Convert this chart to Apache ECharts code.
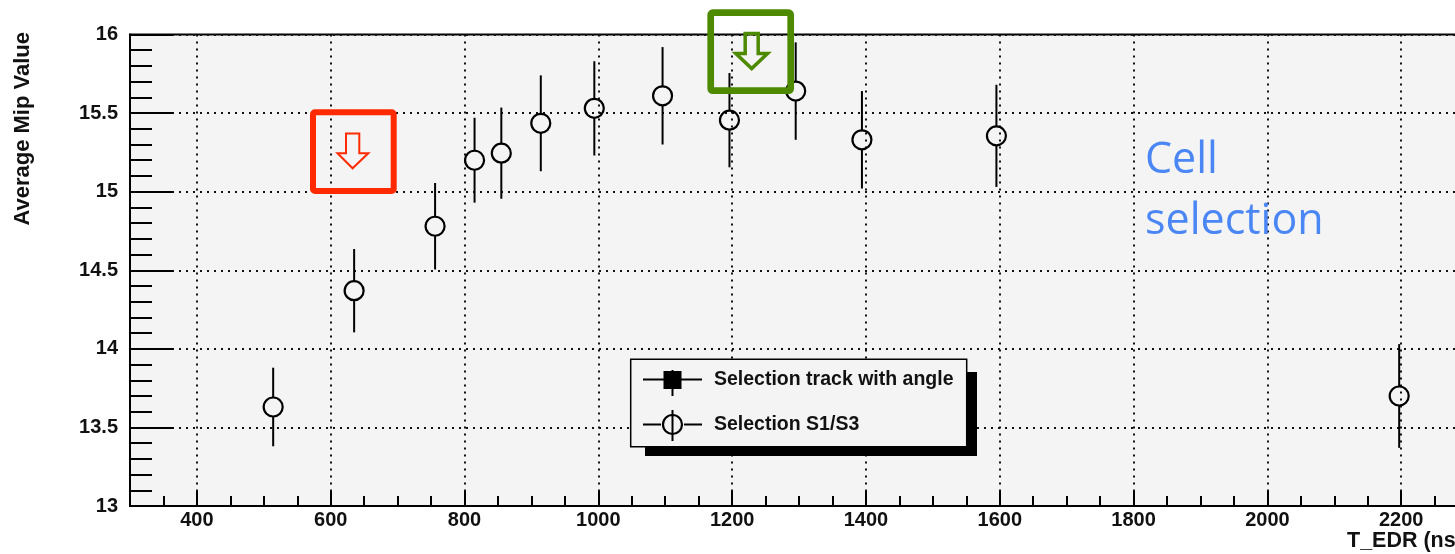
<!DOCTYPE html>
<html>
<head>
<meta charset="utf-8">
<script src="https://cdn.jsdelivr.net/npm/echarts@6/dist/echarts.min.js"></script>
<style>
  html, body { margin: 0; padding: 0; background: #ffffff; }
  #chart { width: 1455px; height: 554px; }
</style>
</head>
<body>
<div id="chart"></div>
<script>
// T_EDR scan: average MIP value per threshold setting (selection S1/S3)
const tEdr    = [514, 635, 756, 815, 855, 914, 994, 1096, 1196, 1295, 1394, 1595, 2197];
const meanMip = [13.63, 14.37, 14.78, 15.20, 15.245, 15.435, 15.53, 15.61, 15.455, 15.64, 15.33, 15.355, 13.70];
const errMip  = [0.25, 0.265, 0.275, 0.27, 0.29, 0.305, 0.30, 0.31, 0.30, 0.31, 0.31, 0.325, 0.33];

const xMajorTicks  = [400, 600, 800, 1000, 1200, 1400, 1600, 1800, 2000, 2200, 2400];
const xTickLabels  = [400, 600, 800, 1000, 1200, 1400, 1600, 1800, 2000, 2200];
const legendLabels = ['Selection track with angle', 'Selection S1/S3'];
const noteLines    = ['Cell', 'selection'];

const FONT = 'Liberation Sans, Arial, Helvetica, sans-serif';
const INK = '#111';
const dotted = { color: '#111', width: 2, type: [2, 5] };

const points = tEdr.map((x, i) => [x, meanMip[i], errMip[i]]);

const chart = echarts.init(document.getElementById('chart'), null, { renderer: 'canvas' });

const red = '#ff2a00';
const green = '#4d8a00';

chart.setOption({
  animation: false,
  backgroundColor: '#ffffff',
  grid: {
    left: 130, top: 34.5, width: 1405, height: 471.5,
    outerBoundsMode: 'none', containLabel: false,
    show: true, backgroundColor: '#f4f4f4', borderColor: '#000', borderWidth: 2
  },
  xAxis: [
    {
      // minor ticks every 50 ns along the frame
      type: 'value', min: 300, max: 2400, interval: 50, position: 'bottom',
      axisLine: { show: true, onZero: false, lineStyle: { color: '#000', width: 2 } },
      axisTick: { show: true, inside: true, length: 10, lineStyle: { color: '#000', width: 2 } },
      axisLabel: { show: false },
      splitLine: { show: false }
    },
    {
      // major ticks, labels and grid every 200 ns
      type: 'value', min: 300, max: 2400, position: 'bottom',
      axisLine: { show: false, onZero: false },
      axisTick: { show: true, inside: true, length: 15, customValues: xMajorTicks,
                  lineStyle: { color: '#000', width: 2 } },
      axisLabel: { show: true, customValues: xTickLabels, margin: 4,
                   formatter: v => String(v),
                   fontFamily: FONT, fontWeight: 'bold', fontSize: 20, color: INK },
      splitLine: { show: true, lineStyle: dotted }
    }
  ],
  yAxis: {
    type: 'value', min: 13, max: 16, interval: 0.5,
    axisLine: { show: true, onZero: false, lineStyle: { color: '#000', width: 2 } },
    axisTick: { show: true, inside: true, length: 43, lineStyle: { color: '#000', width: 2 } },
    minorTick: { show: true, splitNumber: 5, length: 22, lineStyle: { color: '#000', width: 2 } },
    axisLabel: { margin: 12, formatter: v => String(v),
                 fontFamily: FONT, fontWeight: 'bold', fontSize: 20, color: INK },
    splitLine: { show: true, lineStyle: dotted }
  },
  series: [{
    name: legendLabels[1],
    type: 'custom',
    xAxisIndex: 0,
    clip: false,
    data: points,
    renderItem: function (params, api) {
      const x = api.value(0), y = api.value(1), e = api.value(2);
      const c = api.coord([x, y]);
      const hi = api.coord([x, y + e]);
      const lo = api.coord([x, y - e]);
      const r = 9.5;
      const st = { stroke: '#000', lineWidth: 2 };
      return {
        type: 'group',
        children: [
          { type: 'line', shape: { x1: c[0], y1: hi[1], x2: c[0], y2: c[1] - r }, style: st },
          { type: 'line', shape: { x1: c[0], y1: c[1] + r, x2: c[0], y2: lo[1] }, style: st },
          { type: 'circle', shape: { cx: c[0], cy: c[1], r: r },
            style: { fill: 'none', stroke: '#000', lineWidth: 2.2 } }
        ]
      };
    }
  }],
  graphic: [
    // axis titles
    { type: 'text', x: 23, y: 32, rotation: Math.PI / 2, z: 10,
      style: { text: 'Average Mip Value', font: 'bold 22px ' + FONT, fill: INK,
               align: 'right', verticalAlign: 'middle' } },
    { type: 'text', x: 1347, y: 530, z: 10,
      style: { text: 'T_EDR (ns)', font: 'bold 21.5px ' + FONT, fill: INK,
               align: 'left', verticalAlign: 'top' } },

    // legend box with drop shadow
    { type: 'rect', z: 10, shape: { x: 645, y: 372, width: 332, height: 84 },
      style: { fill: '#000' } },
    { type: 'rect', z: 11, shape: { x: 630.7, y: 359.3, width: 336, height: 87.4 },
      style: { fill: '#f4f4f4', stroke: '#000', lineWidth: 1.5 } },
    { type: 'line', z: 12, shape: { x1: 643, y1: 379.5, x2: 702, y2: 379.5 },
      style: { stroke: '#000', lineWidth: 2 } },
    { type: 'line', z: 12, shape: { x1: 672.5, y1: 370, x2: 672.5, y2: 396 },
      style: { stroke: '#000', lineWidth: 2 } },
    { type: 'rect', z: 13, shape: { x: 663.5, y: 371, width: 18, height: 18 },
      style: { fill: '#000' } },
    { type: 'text', z: 13, x: 714, y: 379.5,
      style: { text: legendLabels[0], font: 'bold 19.5px ' + FONT, fill: INK,
               align: 'left', verticalAlign: 'middle' } },
    { type: 'line', z: 12, shape: { x1: 643, y1: 424.5, x2: 661, y2: 424.5 },
      style: { stroke: '#000', lineWidth: 2 } },
    { type: 'line', z: 12, shape: { x1: 684, y1: 424.5, x2: 702, y2: 424.5 },
      style: { stroke: '#000', lineWidth: 2 } },
    { type: 'line', z: 12, shape: { x1: 672.5, y1: 410, x2: 672.5, y2: 441 },
      style: { stroke: '#000', lineWidth: 2 } },
    { type: 'circle', z: 13, shape: { cx: 672.5, cy: 424.5, r: 9.5 },
      style: { fill: 'none', stroke: '#000', lineWidth: 2.2 } },
    { type: 'text', z: 13, x: 714, y: 424.5,
      style: { text: legendLabels[1], font: 'bold 19.5px ' + FONT, fill: INK,
               align: 'left', verticalAlign: 'middle' } },

    // red marker box with hollow down arrow
    { type: 'rect', z: 20, shape: { x: 313, y: 112.3, width: 80.7, height: 78.7, r: 2 },
      style: { fill: 'none', stroke: red, lineWidth: 6 } },
    { type: 'polygon', z: 20,
      shape: { points: [[346, 133.5], [359.3, 133.5], [359.3, 153.3], [368.3, 153.3],
                        [352.6, 168.3], [337.5, 153.3], [346, 153.3]] },
      style: { fill: 'none', stroke: red, lineWidth: 2 } },

    // green marker box with hollow down arrow
    { type: 'rect', z: 20, shape: { x: 710.7, y: 12.7, width: 80, height: 78, r: 2 },
      style: { fill: 'none', stroke: green, lineWidth: 6.7 } },
    { type: 'polygon', z: 20,
      shape: { points: [[745.2, 33.5], [758.2, 33.5], [758.2, 53.5], [767.5, 53.5],
                        [751.7, 68.5], [735.8, 53.5], [745.2, 53.5]] },
      style: { fill: 'none', stroke: green, lineWidth: 3.5 } },

    // annotation text
    { type: 'text', z: 20, x: 1145, y: 139.5,
      style: { text: noteLines[0], font: '43px "Open Sans", "Noto Sans", sans-serif',
               fill: '#4a86f4', align: 'left', verticalAlign: 'top' } },
    { type: 'text', z: 20, x: 1145, y: 200.3,
      style: { text: noteLines[1], font: '43px "Open Sans", "Noto Sans", sans-serif',
               fill: '#4a86f4', align: 'left', verticalAlign: 'top' } }
  ]
});
</script>
</body>
</html>
